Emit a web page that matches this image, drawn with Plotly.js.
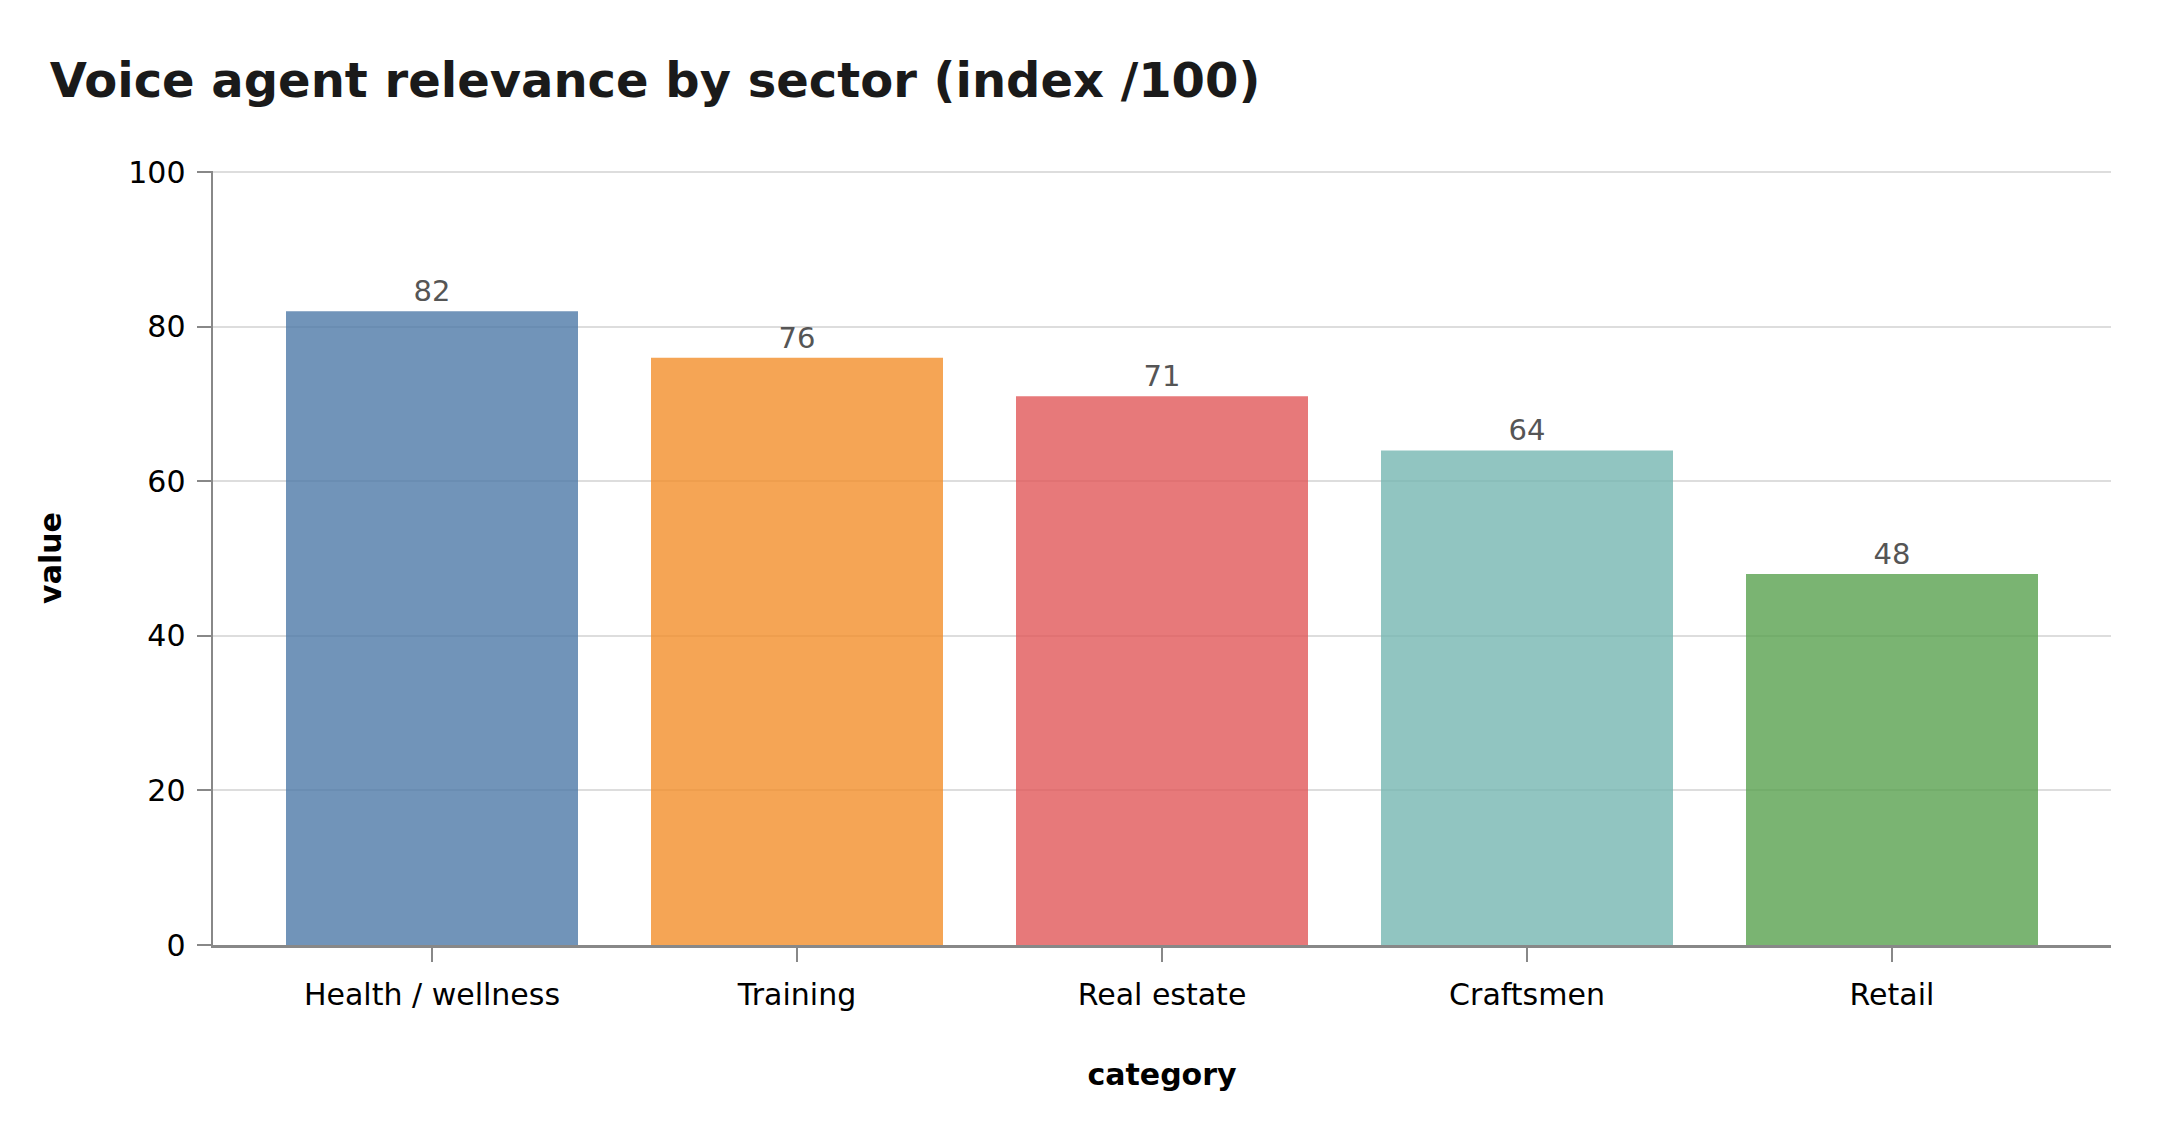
<!DOCTYPE html>
<html>
<head>
<meta charset="utf-8">
<script src="https://cdn.plot.ly/plotly-3.0.1.min.js"></script>
<style>
  html, body { margin: 0; padding: 0; background: #fff; }
  #chart { width: 2160px; height: 1140px; }
</style>
</head>
<body>
<div id="chart"></div>
<script>
// Sector relevance scores
const categories = ["Health / wellness", "Training", "Real estate", "Craftsmen", "Retail"];
const values = [82, 76, 71, 64, 48];
const barColors = ["#4e79a7", "#f28e2b", "#e15759", "#76b7b2", "#59a14f"];
const yTicks = [0, 20, 40, 60, 80, 100];

const font = "DejaVu Sans, sans-serif";

let trace = {
  type: "bar",
  x: categories,
  y: values,
  marker: { color: barColors, opacity: 0.8, line: { width: 0 } },
  text: values.map(String),
  textposition: "outside",
  textfont: { family: font, size: 29, color: "#555555" },
  cliponaxis: false,
  hoverinfo: "x+y",
};

let layout = {
  width: 2160,
  height: 1140,
  paper_bgcolor: "#ffffff",
  plot_bgcolor: "#ffffff",
  margin: { l: 213, r: 49, t: 171, b: 195 },
  bargap: 0.2,
  showlegend: false,
  font: { family: font, size: 30, color: "#000000" },
  title: {
    text: "<b>Voice agent relevance by sector (index /100)</b>",
    font: { family: font, size: 48, color: "#1a1a1a" },
    xref: "container",
    yref: "container",
    x: 0.023,
    xanchor: "left",
    y: 0.93,
    yanchor: "middle",
  },
  xaxis: {
    type: "category",
    range: [-0.6, 4.6],
    showline: true,
    linecolor: "#888888",
    linewidth: 2.5,
    ticks: "outside",
    ticklen: 14,
    tickwidth: 2,
    tickcolor: "#888888",
    ticklabelstandoff: 7,
    showgrid: false,
    tickfont: { family: font, size: 30, color: "#000000" },
    title: {
      text: "<b>category</b>",
      font: { family: font, size: 30, color: "#000000" },
      standoff: 54,
    },
  },
  yaxis: {
    range: [0, 100.15],
    tickvals: yTicks,
    showline: true,
    linecolor: "#888888",
    linewidth: 2.5,
    ticks: "outside",
    ticklen: 14,
    tickwidth: 2,
    tickcolor: "#888888",
    ticklabelstandoff: 5,
    showgrid: true,
    gridcolor: "#dddddd",
    gridwidth: 2,
    zeroline: false,
    tickfont: { family: font, size: 30, color: "#000000" },
    title: {
      text: "<b>value</b>",
      font: { family: font, size: 30, color: "#000000" },
      standoff: 58,
    },
  },
};

Plotly.newPlot("chart", [trace], layout, { displayModeBar: false, staticPlot: true });
</script>
</body>
</html>
